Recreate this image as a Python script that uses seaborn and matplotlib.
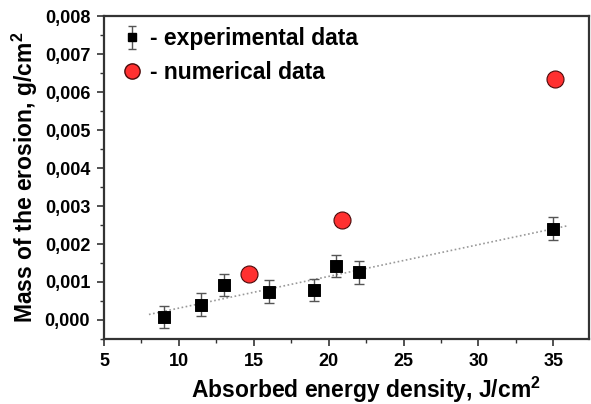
import numpy as np
import matplotlib
matplotlib.use("Agg")
import matplotlib.pyplot as plt
from matplotlib.ticker import MultipleLocator, FuncFormatter
import seaborn as sns

sns.set_theme(style="white")
plt.rcParams["font.family"] = ["Liberation Sans", "DejaVu Sans"]
plt.rcParams["font.weight"] = "bold"
plt.rcParams["mathtext.fontset"] = "custom"
plt.rcParams["mathtext.rm"] = "Liberation Sans:bold"
plt.rcParams["mathtext.bf"] = "Liberation Sans:bold"
plt.rcParams["text.color"] = "black"
plt.rcParams["axes.labelcolor"] = "black"
plt.rcParams["xtick.color"] = "black"
plt.rcParams["ytick.color"] = "black"

# experimental data (with error bars)
exp_x = [9, 11.5, 13, 16, 19, 20.5, 22, 35]
exp_y = [0.00008, 0.00040, 0.00092, 0.00074, 0.00079, 0.00142, 0.00126, 0.00240]
exp_err = [0.0003, 0.0003, 0.0003, 0.0003, 0.0003, 0.0003, 0.0003, 0.0003]

# numerical data
num_x = [14.7, 20.9, 35.1]
num_y = [0.00121, 0.00264, 0.00634]

# range of the linear trend line
fit_range = [8, 36]

fig, ax = plt.subplots(figsize=(5.91, 4.04), dpi=100)
fig.subplots_adjust(left=0.176, right=0.997, bottom=0.161, top=0.960)

# linear fit of experimental points, dotted gray
slope, intercept = np.polyfit(exp_x, exp_y, 1)
fx = np.array(fit_range)
ax.plot(fx, slope * fx + intercept, linestyle=(0, (1, 1.5)), color="#999999", linewidth=1.2, zorder=1)

ax.errorbar(exp_x, exp_y, yerr=exp_err, fmt="none", ecolor="#555555",
            elinewidth=1, capsize=3.5, capthick=1, zorder=2)
sns.scatterplot(x=exp_x, y=exp_y, marker="s", s=70, color="black",
                edgecolor="black", ax=ax, zorder=3)
sns.scatterplot(x=num_x, y=num_y, marker="o", s=150, color="#ff3030",
                edgecolor="#4a0a0a", linewidth=0.8, ax=ax, zorder=3)

# legend proxies
exp_handle = ax.errorbar([np.nan], [np.nan], yerr=[0.0003], fmt="s", ms=6,
                         color="black", ecolor="#555555", elinewidth=1, capsize=3)
num_handle = plt.Line2D([], [], marker="o", linestyle="none", ms=11,
                        markerfacecolor="#ff3030", markeredgecolor="#4a0a0a")
ax.legend([exp_handle, num_handle], ["- experimental data", "- numerical data"],
          loc="upper left", frameon=False, fontsize=16.5, handlelength=1.0,
          handletextpad=0.3, labelspacing=0.45, borderaxespad=0.3,
          bbox_to_anchor=(0.0, 1.015))

ax.set_xlim(5, 37.4)
ax.set_ylim(-0.0005, 0.008)
ax.xaxis.set_major_locator(MultipleLocator(5))
ax.xaxis.set_minor_locator(MultipleLocator(2.5))
ax.yaxis.set_major_locator(MultipleLocator(0.001))
ax.yaxis.set_minor_locator(MultipleLocator(0.0005))
ax.yaxis.set_major_formatter(FuncFormatter(lambda v, p: f"{v:.3f}".replace(".", ",")))

ax.tick_params(which="major", direction="out", length=5, width=1.2,
               color="#333333", labelsize=13, pad=5, bottom=True, left=True)
ax.tick_params(which="minor", direction="out", length=3, width=1.0,
               color="#333333", bottom=True, left=True)
for lab in ax.get_xticklabels() + ax.get_yticklabels():
    lab.set_fontweight("bold")

for sp in ax.spines.values():
    sp.set_color("#333333")
    sp.set_linewidth(1.6)

ax.set_xlabel(r"Absorbed energy density, J/cm$^{2}$", fontsize=16.5, fontweight="bold", labelpad=3.5)
ax.set_ylabel(r"Mass of the erosion, g/cm$^{2}$", fontsize=16.5, fontweight="bold", labelpad=3)
ax.xaxis.label.set_x(0.54)
ax.grid(False)

fig.savefig("out.png", dpi=100)
